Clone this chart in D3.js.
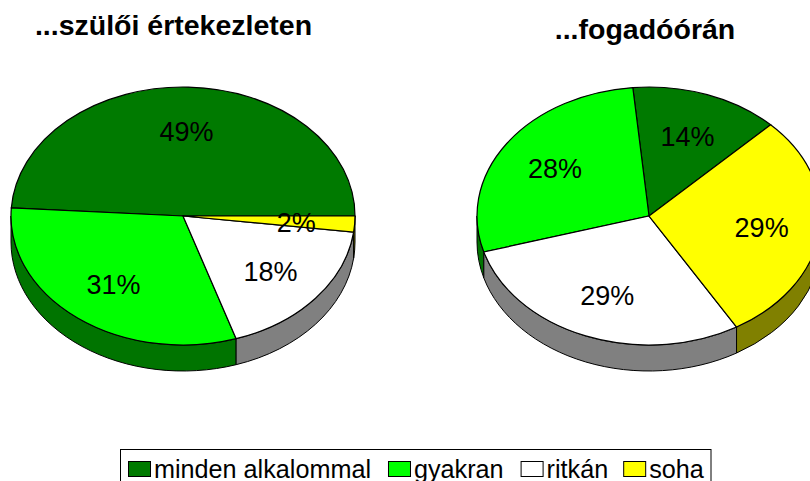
<!DOCTYPE html>
<html>
<head>
<meta charset="utf-8">
<style>
html, body { margin: 0; padding: 0; background: #fff; overflow: hidden; }
svg { display: block; font-family: "Liberation Sans", Arial, sans-serif; }
</style>
</head>
<body>
<svg width="810" height="481"></svg>
<script src="https://cdn.jsdelivr.net/npm/d3@7"></script>
<script>
var categories = ["minden alkalommal", "gyakran", "ritkán", "soha"];
var topColors = ["#007a00", "#00ff00", "#ffffff", "#ffff00"];
var sideColors = ["#007400", "#007400", "#808080", "#808000"];

var titles = ["...szülői értekezleten", "...fogadóórán"];
var valuesLeft = [49, 31, 18, 2];
var valuesRight = [14, 28, 29, 29];
var startDegLeft = 90;
var startDegRight = 45;

var rx = 172, ry = 129, depth = 26, cy = 216;
var labelRadius = 0.66;
var svg = d3.select("svg");
var rad = Math.PI / 180;

// slices run counter-clockwise from the start angle
function makePie(values, startDeg) {
	return d3.pie().sort(null)
		.startAngle(startDeg * rad)
		.endAngle((startDeg - 360) * rad)(values);
}

function drawPie(values, startDeg, cx) {
	var x = d3.scaleLinear().domain([-1, 1]).range([cx - rx, cx + rx]);
	var y = d3.scaleLinear().domain([-1, 1]).range([cy - ry, cy + ry]);
	var arcs = makePie(values, startDeg);
	var g = svg.append("g");

	function outerPoint(a) {
		return [x(Math.sin(a)), y(-Math.cos(a))];
	}

	function sidePath(a0, a1) {
		var first = outerPoint(a0), last = outerPoint(a1);
		return "M" + first + "A" + rx + "," + ry + " 0 0 0 " + last +
			"L" + last[0] + "," + (last[1] + depth) +
			"A" + rx + "," + ry + " 0 0 1 " + first[0] + "," + (first[1] + depth) + "Z";
	}

	// side wall, only the part on the front half of the ellipse
	arcs.forEach(function(d, i) {
		var lo = Math.min(d.startAngle, d.endAngle), hi = Math.max(d.startAngle, d.endAngle);
		[-270, 90].forEach(function(frontStart) {
			var from = Math.max(lo, frontStart * rad), to = Math.min(hi, (frontStart + 180) * rad);
			if (to > from) {
				g.append("path")
					.attr("d", sidePath(to, from))
					.attr("fill", sideColors[i])
					.attr("stroke", "#000")
					.attr("stroke-width", 1);
			}
		});
	});

	// top face
	var arc = d3.arc().innerRadius(0).outerRadius(rx);
	g.selectAll(".slice")
		.data(arcs)
		.enter().append("path")
		.attr("class", "slice")
		.attr("transform", "translate(" + cx + "," + cy + ") scale(1," + (ry / rx) + ")")
		.attr("d", function(d) {
			return arc({ startAngle: d.startAngle, endAngle: d.endAngle });
		})
		.attr("vector-effect", "non-scaling-stroke")
		.attr("fill", function(d, i) { return topColors[i]; })
		.attr("stroke", "#000")
		.attr("stroke-width", 1.2);

	g.selectAll(".pct")
		.data(arcs)
		.enter().append("text")
		.attr("class", "pct")
		.attr("x", function(d) { return x(labelRadius * Math.sin((d.startAngle + d.endAngle) / 2)); })
		.attr("y", function(d) { return y(-labelRadius * Math.cos((d.startAngle + d.endAngle) / 2)); })
		.attr("dy", "0.38em")
		.attr("text-anchor", "middle")
		.style("font-size", "27px")
		.attr("fill", "#000")
		.text(function(d) { return d.data + "%"; });
}

drawPie(valuesLeft, startDegLeft, 183);
drawPie(valuesRight, startDegRight, 649);

// Titles
svg.append("text").attr("x", 173.5).attr("y", 35).attr("text-anchor", "middle")
	.style("font-size", "28.5px").style("font-weight", "bold").text(titles[0]);
svg.append("text").attr("x", 645).attr("y", 39).attr("text-anchor", "middle")
	.style("font-size", "28.5px").style("font-weight", "bold").text(titles[1]);

// Legend
svg.append("rect").attr("x", 120.5).attr("y", 449.5).attr("width", 590.5).attr("height", 40)
	.attr("fill", "#fff").attr("stroke", "#000").attr("stroke-width", 1);

var lx = 128;
var legendGaps = [17, 17, 15, 0];
categories.forEach(function(c, i) {
	svg.append("rect").attr("x", lx + 0.5).attr("y", 461.5).attr("width", 22).attr("height", 15)
		.attr("fill", topColors[i]).attr("stroke", "#000").attr("stroke-width", 1);
	var t = svg.append("text").attr("x", lx + 26).attr("y", 478)
		.style("font-size", "25.2px").text(c);
	lx += 26 + t.node().getComputedTextLength() + legendGaps[i];
});
</script>
</body>
</html>
